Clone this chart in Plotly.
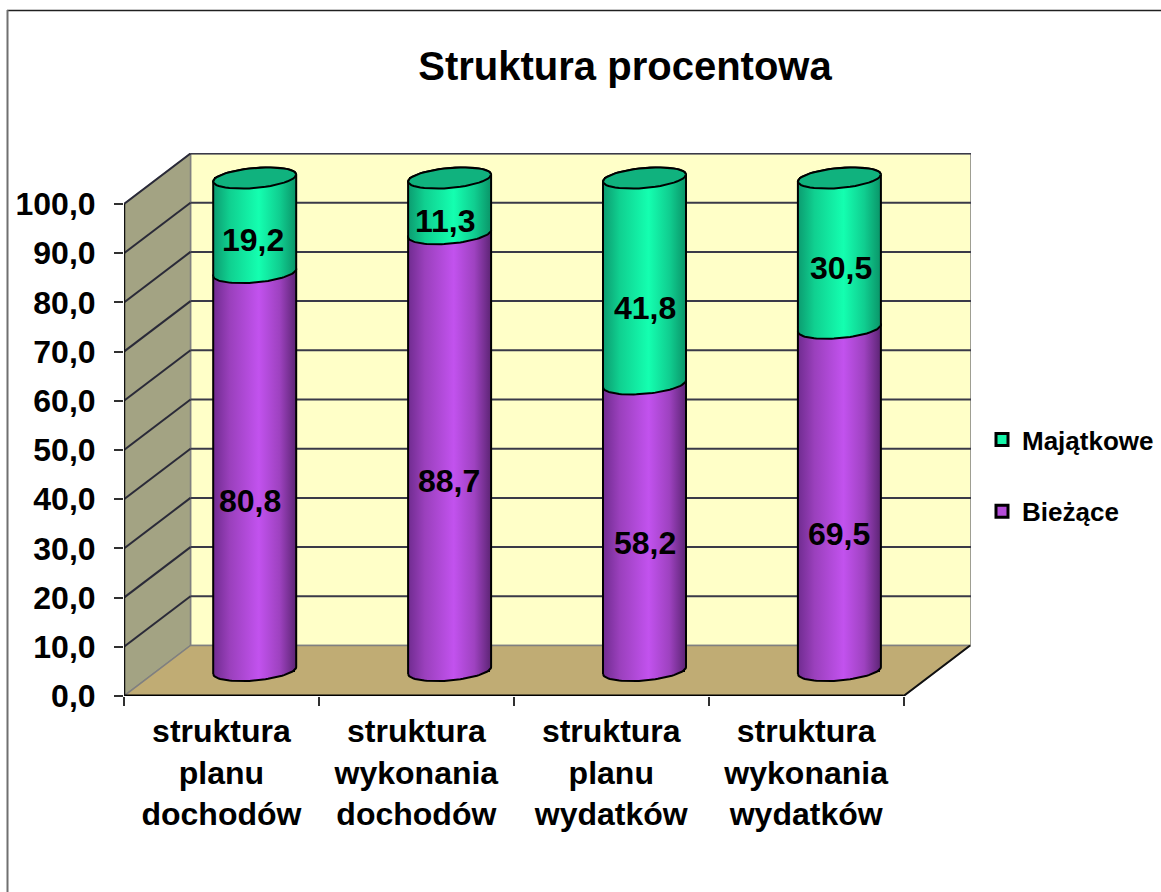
import math
import plotly.graph_objects as go

# ---------- data ----------
categories = ["struktura<br>planu<br>dochodów", "struktura<br>wykonania<br>dochodów",
              "struktura<br>planu<br>wydatków", "struktura<br>wykonania<br>wydatków"]
biezace = [80.8, 88.7, 58.2, 69.5]
majatkowe = [19.2, 11.3, 41.8, 30.5]
y_ticks = [0, 10, 20, 30, 40, 50, 60, 70, 80, 90, 100]
title_text = "Struktura procentowa"
series_names = ["Bieżące", "Majątkowe"]

# ---------- label nudges (px) ----------
biezace_nudge = [(-5, -29), (-1, -29), (0, -16), (0, -35)]
majatkowe_nudge = [(-2, -15), (-4, -15), (0, -27), (2, -15)]

# ---------- layout constants (px) ----------
W, H = 1161, 892
L, R, T, B = 124, 971, 153, 696
UX, UY = 194.9, 4.92             # px per category, px per percent on the front plane
DX, DY = 66.5 / UX, 50.5 / UY    # chart depth in axis units
XMAX, YMAX = (R - L) / UX, (B - T) / UY
X2_0, Y2_0 = 254.7, 670.5        # px of first bar centre and its base
A = 41.5 / UX                    # cylinder half width
EB, EK = 10.0 / UY, 3.5 / UY     # ellipse half height, tilt

FONT = "Liberation Sans"
PURPLE, GREEN = "#B44DD8", "#14F5A8"
DARK = "#2A2A38"


def px(x):
    return (x - L) / (R - L)


def py(y):
    return (B - y) / (B - T)


shapes = []


def poly(pts, fill, lc="#808080", lw=1.5):
    d = "M " + " L ".join(f"{a},{b}" for a, b in pts) + " Z"
    shapes.append(dict(type="path", path=d, xref="x", yref="y", fillcolor=fill,
                       line=dict(color=lc, width=lw), layer="below"))


def seg(x0, y0, x1, y1, color=DARK, width=2):
    shapes.append(dict(type="line", xref="x", yref="y", x0=x0, y0=y0, x1=x1, y1=y1,
                       line=dict(color=color, width=width), layer="below"))


poly([(DX, DY), (XMAX, DY), (XMAX, 100 + DY), (DX, 100 + DY)], "#FFFFC8")
poly([(0, 0), (DX, DY), (DX, 100 + DY), (0, 100)], "#A3A383")
poly([(0, 0), (4, 0), (4 + DX, DY), (DX, DY)], "#C0AC74", lc="#808080")
for v in y_ticks[1:]:
    seg(0, v, DX, v + DY)
    seg(DX, v + DY, XMAX, v + DY, color="#3A3A48")
seg(4, 0, 4 + DX, DY, color="#101010", width=2)
seg(0, 0, 4, 0, color="#000000", width=3)
seg(0, 0, 0, 100, color="#101010", width=2.5)
# outer frame of the picture
shapes.append(dict(type="line", xref="paper", yref="paper", x0=px(7), x1=px(W), y0=py(10.5), y1=py(10.5),
                   line=dict(color="#202020", width=1.5)))
shapes.append(dict(type="line", xref="paper", yref="paper", x0=px(7.5), x1=px(7.5), y0=py(10), y1=py(H),
                   line=dict(color="#707070", width=2)))

fig = go.Figure()
xs = list(range(len(categories)))
for name, vals, col, rank in (
    (series_names[0], biezace, PURPLE, 2),
    (series_names[1], majatkowe, GREEN, 1),
):
    fig.add_trace(go.Bar(x=xs, y=vals, name=name, legendgroup=name, legendrank=rank, width=0.40,
                         marker=dict(color=col, line=dict(color="#000000", width=3)),
                         xaxis="x2", yaxis="y2", hoverinfo="name+y"))

N = 48


def arc(cx, v, t0, t1):
    out = []
    for i in range(N + 1):
        t = t0 + (t1 - t0) * i / N
        out.append((cx + A * math.cos(t), v + EB * math.sin(t) + EK * math.cos(t)))
    return out


PURPLE_GRAD = [[0, "#702C90"], [0.2, "#9A40BC"], [0.55, "#C252EE"], [0.8, "#9E42C0"], [1, "#5C2474"]]
GREEN_GRAD = [[0, "#0C9C70"], [0.2, "#10D090"], [0.55, "#14FFB0"], [0.8, "#10CE90"], [1, "#0A9468"]]


def body(pts, scale):
    fig.add_trace(go.Scatter(x=[p[0] for p in pts], y=[p[1] for p in pts], mode="lines", fill="toself",
                             fillgradient=dict(type="horizontal", colorscale=scale),
                             line=dict(color="#000000", width=2), xaxis="x2", yaxis="y2",
                             showlegend=False, hoverinfo="skip"))


for i, cx in enumerate(xs):
    b, m = biezace[i], majatkowe[i]
    lo = arc(cx, 0, math.pi, 2 * math.pi)
    mid_up = arc(cx, b, 0, math.pi)
    body(lo + mid_up + lo[:1], PURPLE_GRAD)
for i, cx in enumerate(xs):
    b, m = biezace[i], majatkowe[i]
    lo = arc(cx, b, math.pi, 2 * math.pi)
    top_up = arc(cx, b + m, 0, math.pi)
    body(lo + top_up + lo[:1], GREEN_GRAD)
    ring = arc(cx, b + m, 0, 2 * math.pi)
    fig.add_trace(go.Scatter(x=[p[0] for p in ring], y=[p[1] for p in ring], mode="lines", fill="toself",
                             fillcolor="#10B27E", line=dict(color="#000000", width=2), xaxis="x2", yaxis="y2",
                             showlegend=False, hoverinfo="skip"))

annotations = []
for i, cx in enumerate(xs):
    for val, base, nudge in ((biezace[i], 0, biezace_nudge[i]), (majatkowe[i], biezace[i], majatkowe_nudge[i])):
        annotations.append(dict(x=cx, y=base + val / 2, xref="x2", yref="y2", showarrow=False,
                                text=f"{val:.1f}".replace(".", ","), xshift=nudge[0], yshift=nudge[1],
                                font=dict(family=FONT, size=32, color="#000000", weight=700)))

fig.update_layout(
    width=W, height=H, autosize=False,
    margin=dict(l=L, r=W - R, t=T, b=H - B, pad=0, autoexpand=False),
    paper_bgcolor="#FFFFFF", plot_bgcolor="rgba(0,0,0,0)",
    barmode="stack",
    title=dict(text=title_text, x=625 / W, xref="container", xanchor="center", y=(H - 66) / H, yanchor="middle",
               font=dict(family=FONT, size=40, color="#000000", weight=700)),
    xaxis=dict(range=[0, XMAX], showgrid=False, zeroline=False, showline=False,
               tickmode="array", tickvals=[x + 0.5 for x in xs], ticktext=categories, ticks="",
               tickangle=0, ticklabelstandoff=13, tickfont=dict(family=FONT, size=32, color="#000000", weight=700),
               minor=dict(tickmode="array", tickvals=[0, 1, 2, 3, 4], ticks="outside", ticklen=9, tickwidth=1.5,
                          tickcolor="#303030", showgrid=False)),
    yaxis=dict(range=[0, YMAX], showgrid=False, zeroline=False, showline=False,
               tickmode="array", tickvals=y_ticks, ticktext=[f"{v:.1f}".replace(".", ",") for v in y_ticks],
               ticks="outside", ticklen=9, tickwidth=1.5, tickcolor="#303030", ticklabelstandoff=12,
               tickfont=dict(family=FONT, size=32, color="#000000", weight=700)),
    xaxis2=dict(overlaying="x", anchor="y2", visible=False, showgrid=False,
                range=[(L - X2_0) / UX, (R - X2_0) / UX]),
    yaxis2=dict(overlaying="y", anchor="x2", visible=False, showgrid=False,
                range=[(Y2_0 - B) / 4.925, (Y2_0 - T) / 4.925]),
    legend=dict(x=px(982), xanchor="left", y=py(416), yanchor="top", traceorder="grouped",
                tracegroupgap=35, bgcolor="rgba(0,0,0,0)",
                font=dict(family=FONT, size=26, color="#000000", weight=700), itemclick=False, itemdoubleclick=False),
    shapes=shapes, annotations=annotations,
)

fig.write_html("out.html", config=dict(displayModeBar=False),
               post_script="document.body.style.margin='0';document.body.style.overflow='hidden';")
